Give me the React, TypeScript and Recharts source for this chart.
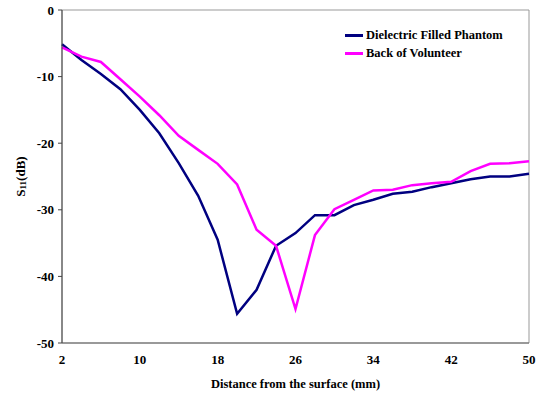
import React from 'react';
import { LineChart, Line, XAxis, YAxis, ReferenceArea, Label } from 'recharts';

const distances = [2, 4, 6, 8, 10, 12, 14, 16, 18, 20, 22, 24, 26, 28, 30, 32, 34, 36, 38, 40, 42, 44, 46, 48, 50];
const phantom = [-5.15, -7.5, -9.6, -11.9, -15.0, -18.5, -23.0, -27.9, -34.5, -45.6, -42.0, -35.4, -33.5, -30.8, -30.8, -29.3, -28.5, -27.6, -27.3, -26.6, -26.0, -25.4, -25.0, -25.0, -24.6];
const volunteer = [-5.6, -7.0, -7.8, -10.4, -13.0, -15.8, -18.9, -21.0, -23.1, -26.2, -33.0, -35.4, -44.9, -33.8, -29.9, -28.5, -27.1, -27.0, -26.3, -26.0, -25.8, -24.2, -23.1, -23.0, -22.7];
const xTicks = [2, 10, 18, 26, 34, 42, 50];
const yTicks = [0, -10, -20, -30, -40, -50];
const seriesNames = ['Dielectric Filled Phantom', 'Back of Volunteer'];
const seriesColors = ['#000080', '#FF00FF'];

const data = distances.map((d, i) => ({ d, phantom: phantom[i], volunteer: volunteer[i] }));

const FONT = '"Liberation Serif", "Times New Roman", serif';

const YTitle = (props: any) => {
  const vb = props.viewBox || {};
  const cx = 20;
  const cy = (vb.y || 0) + (vb.height || 0) / 2;
  return (
    <text
      x={cx}
      y={cy}
      transform={`rotate(-90, ${cx}, ${cy})`}
      textAnchor="middle"
      dominantBaseline="central"
      fontFamily={FONT}
      fontWeight="bold"
      fontSize={13}
      fill="#000"
    >
      <tspan>S</tspan>
      <tspan fontSize={9} dy={3}>11</tspan>
      <tspan dy={-3}>(dB)</tspan>
    </text>
  );
};

const LegendBox = () => (
  <div
    style={{
      position: 'absolute',
      left: 345,
      top: 26,
      fontFamily: FONT,
      fontWeight: 'bold',
      fontSize: 12.5,
      color: '#000',
      lineHeight: '18px',
    }}
  >
    {seriesNames.map((n, i) => (
      <div key={n} style={{ display: 'flex', alignItems: 'center', height: 18 }}>
        <span style={{ display: 'inline-block', width: 18, height: 3, background: seriesColors[i], marginRight: 3 }} />
        <span>{n}</span>
      </div>
    ))}
  </div>
);

export default function App() {
  return (
    <div style={{ position: 'absolute', left: 0, top: 0, width: 540, height: 394, background: '#fff' }}>
      <LineChart width={540} height={394} data={data} margin={{ top: 10, right: 11, bottom: 0, left: 0 }}>
        <ReferenceArea x1={2} x2={50} y1={-50} y2={0} fill="none" stroke="#999" strokeWidth={1} ifOverflow="visible" />
        <XAxis
          dataKey="d"
          type="number"
          domain={[2, 50]}
          ticks={xTicks}
          height={51}
          tickLine={false}
          tickSize={8}
          tickMargin={4}
          stroke="#666"
          tick={{ fontFamily: FONT, fontWeight: 'bold', fontSize: 13, fill: '#000' }}
        >
          <Label
            value="Distance from the surface (mm)"
            position="insideBottom"
            offset={6}
            style={{ fontFamily: FONT, fontWeight: 'bold', fontSize: 12.5, fill: '#000' }}
          />
        </XAxis>
        <YAxis
          type="number"
          domain={[-50, 0]}
          ticks={yTicks}
          width={62}
          tickSize={4}
          tickMargin={4}
          stroke="#444"
          tick={{ fontFamily: FONT, fontWeight: 'bold', fontSize: 13, fill: '#000' }}
        >
          <Label content={<YTitle />} />
        </YAxis>
        <Line dataKey="phantom" name={seriesNames[0]} stroke={seriesColors[0]} strokeWidth={2.5} dot={false} isAnimationActive={false} />
        <Line dataKey="volunteer" name={seriesNames[1]} stroke={seriesColors[1]} strokeWidth={2.5} dot={false} isAnimationActive={false} />
      </LineChart>
      <LegendBox />
    </div>
  );
}
